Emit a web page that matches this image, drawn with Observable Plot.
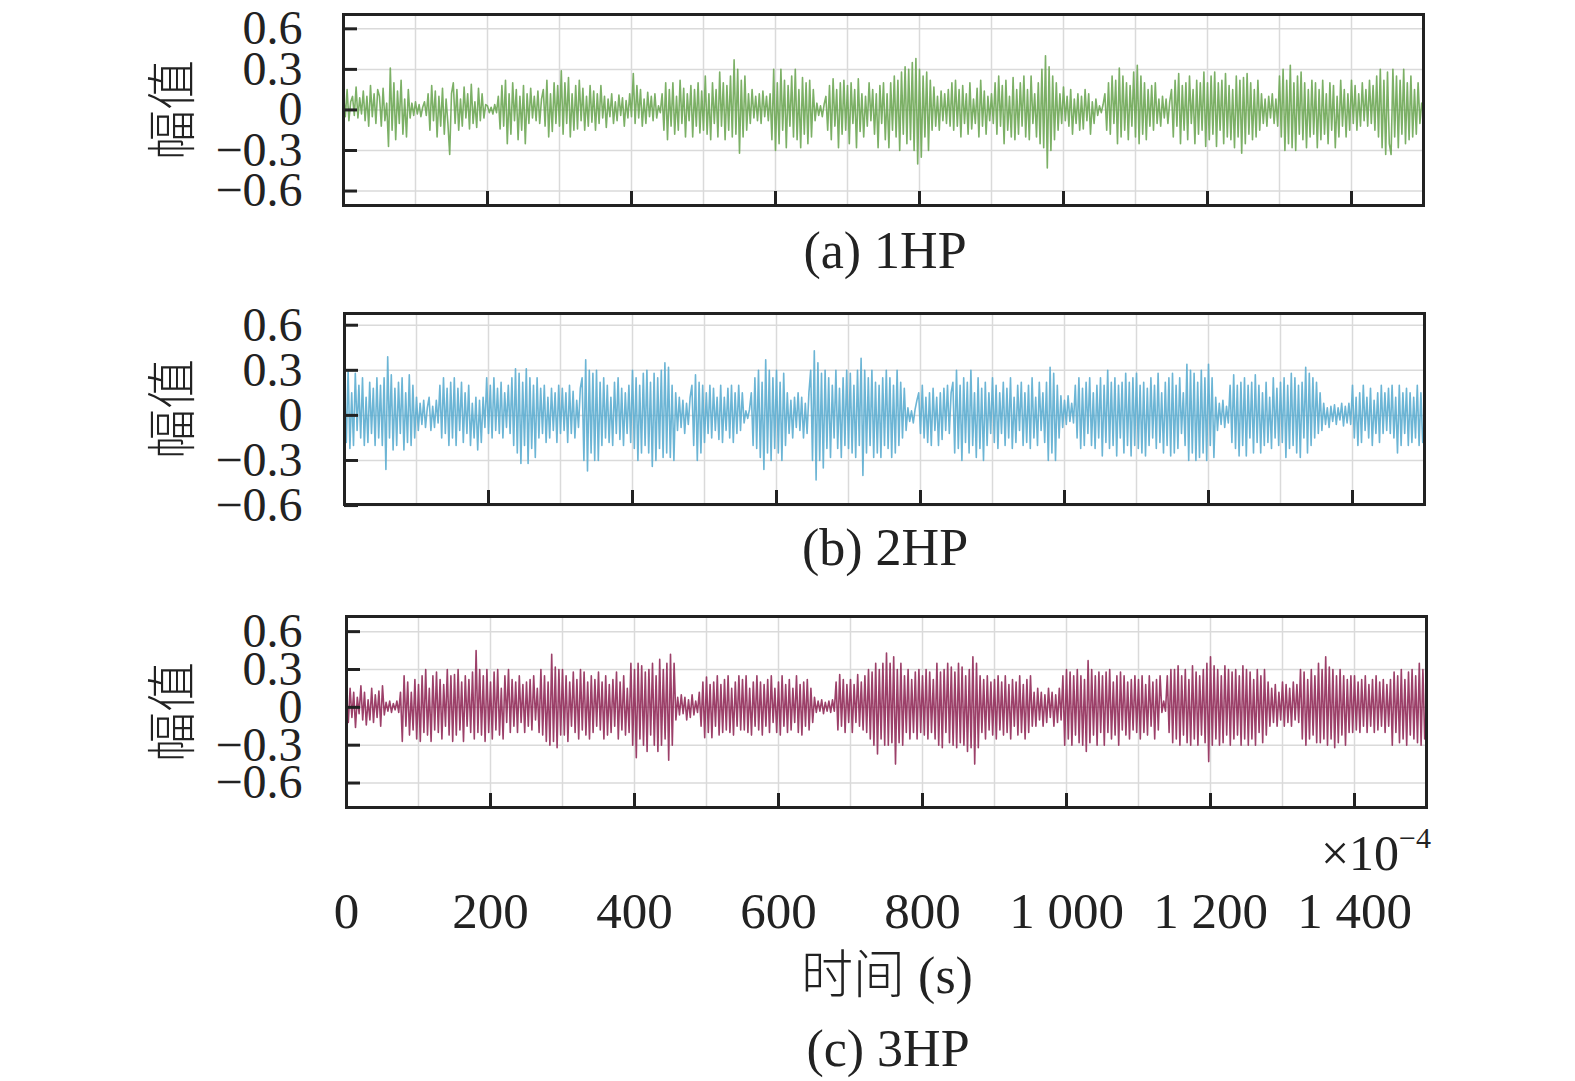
<!DOCTYPE html>
<html>
<head>
<meta charset="utf-8">
<script src="https://cdn.jsdelivr.net/npm/d3@7"></script>
<script src="https://cdn.jsdelivr.net/npm/@observablehq/plot@0.6"></script>
<style>
html, body { margin: 0; background: #fff; overflow: hidden; }
#fig { position: relative; width: 1575px; height: 1081px; font-family: "Liberation Serif", "Times New Roman", serif; color: #222; }
#fig svg { position: absolute; left: 0; overflow: visible; max-width: none; }
.cap { position: absolute; transform: translateX(-50%); white-space: nowrap; font-size: 52px; line-height: 1; }
.ylab { position: absolute; left: 168px; transform: translate(-50%, -50%) rotate(-90deg); white-space: nowrap; font-size: 50px; line-height: 1; font-family: "Noto Sans CJK SC", sans-serif; font-weight: 300; }
.exp { position: absolute; right: 144px; top: 823px; font-size: 50px; line-height: 1; }
.exp sup { font-size: 30px; vertical-align: 22px; }
.cjk { font-family: "Noto Sans CJK SC", sans-serif; font-weight: 300; }
</style>
</head>
<body>
<div id="fig"></div>
<script>
// data: vibration amplitude, one sample every 2.5 (x10^-4 s), 20 samples per line
const step = 2.5;

const hp1 = [
  .12,-.05,.15,-.08,.06,.1,-.04,.17,-.06,.09,-.03,.14,-.08,.1,-.12,.18,-.05,.12,-.1,.15,
  .1,-.12,.16,-.08,.05,-.27,.31,-.15,.2,-.22,.14,-.1,.22,-.18,.08,-.2,.15,-.06,.05,-.04,
  .06,-.03,.04,-.05,.02,.06,-.04,.12,-.15,.18,-.08,.14,-.2,.1,-.12,.16,-.18,.08,-.1,-.33,
  .12,.2,-.1,.15,-.15,.08,-.12,.17,-.06,.12,-.14,.19,-.1,.06,-.13,.16,-.08,.12,-.06,.04,
  .03,-.02,.02,-.03,.04,-.02,.1,-.14,.18,-.12,.22,-.25,.12,-.18,.2,-.08,.15,-.22,.1,-.15,
  .18,-.25,.12,-.1,.16,-.06,.1,-.08,.14,-.1,.08,.15,-.12,.22,-.2,.12,-.16,.2,-.1,.18,
  -.12,.29,-.18,.2,-.1,.24,-.2,.12,-.15,.18,-.14,.22,-.08,.16,-.15,.1,-.12,.18,-.09,.14,
  -.15,.12,-.1,.18,-.06,.1,-.13,.08,-.05,.12,-.1,.06,-.08,.11,-.04,.09,-.12,.07,-.06,.12,
  -.05,.27,-.1,.18,-.06,.15,-.12,.08,-.1,.13,-.05,.1,-.08,.12,-.06,.03,-.02,.12,-.15,.2,
  -.22,.15,-.12,.2,-.18,.1,-.15,.22,-.1,.16,-.2,.12,-.08,.18,-.2,.15,-.12,.2,-.17,.14,
  -.15,.25,-.18,.12,-.22,.2,-.1,.15,-.2,.28,-.12,.2,-.22,.18,-.15,.25,-.2,.37,-.18,.3,
  -.32,.22,-.2,.25,-.15,.12,-.1,.15,-.06,.1,-.08,.12,-.1,.14,-.05,.1,-.08,.12,-.22,.3,
  -.3,.2,-.25,.3,-.15,.22,-.28,.18,-.12,.25,-.2,.3,-.22,.15,-.28,.24,-.18,.2,-.25,.22,
  -.2,.15,-.08,.05,-.04,.03,-.05,.04,.1,-.15,.18,-.22,.23,-.12,.15,-.28,.2,-.18,.22,-.15,
  .18,-.25,.2,-.1,.15,-.28,.23,-.16,.12,-.2,.1,-.12,.2,-.08,.15,-.18,.12,-.28,.18,-.1,
  .2,-.22,.12,-.28,.2,-.15,.25,-.2,.22,-.3,.28,-.18,.32,-.25,.3,-.22,.35,-.3,.38,-.4,
  .3,-.35,.25,-.2,.28,-.3,.22,-.15,.17,-.12,.1,-.15,.14,-.08,.12,-.1,.15,-.12,.2,-.15,
  .22,-.12,.15,-.2,.18,-.1,.12,-.18,.2,-.14,.08,-.1,.16,-.2,.22,-.12,.14,-.18,.1,-.08,
  .12,-.1,.2,-.18,.25,-.12,.18,-.25,.22,-.15,.1,-.2,.24,-.22,.15,-.18,.2,-.12,.25,-.2,
  .15,-.22,.25,-.1,.12,-.2,.2,-.25,.3,-.28,.4,-.43,.32,-.3,.25,-.22,.2,-.15,.12,-.1,
  .17,-.08,.1,-.12,.15,-.18,.08,-.1,.12,-.15,.1,-.14,.15,-.08,.12,-.18,.06,-.1,.08,-.04,
  .03,-.02,.04,.12,-.15,.2,-.18,.25,-.1,.22,-.25,.31,-.2,.25,-.15,.2,-.22,.18,-.12,.28,
  -.2,.33,-.25,.25,-.18,.2,-.22,.15,-.12,.18,-.15,.2,-.1,.08,-.12,.1,-.06,.08,-.1,.06,
  .15,-.2,.22,-.12,.27,-.25,.18,-.15,.2,-.22,.25,-.1,.15,-.25,.22,-.18,.2,-.15,.28,-.27,
  .2,-.22,.25,-.18,.28,-.27,.2,-.15,.22,-.25,.27,-.2,.18,-.22,.15,-.28,.25,-.2,.22,-.32,
  .24,-.25,.27,-.18,.2,-.22,.15,-.2,.22,-.15,.12,-.1,.08,-.12,.1,-.06,.12,-.1,.08,-.12,
  .25,-.2,.3,-.3,.22,-.25,.33,-.28,.2,-.3,.25,-.18,.28,-.22,.2,-.28,.15,-.2,.22,-.18,
  .2,-.28,.15,-.22,.22,-.18,.12,-.25,.2,-.15,.18,-.28,.1,-.2,.22,-.12,.15,-.2,.12,-.15,
  .22,-.1,.18,-.15,.12,-.12,.2,-.08,.15,-.12,.22,-.1,.18,-.15,.25,-.2,.3,-.28,.22,-.33,
  .28,-.25,-.33,.3,-.2,.25,-.28,.22,-.18,.3,-.25,.2,-.22,.25,-.2,.15,-.18,.2,-.1,.05
];

const hp2 = [
  .22,-.18,.3,-.22,.15,-.2,.28,-.1,.2,-.15,.25,-.2,.12,-.18,.22,-.12,.18,-.2,.25,-.15,
  .2,-.2,.25,-.36,.39,-.15,.27,-.23,.18,-.2,.22,-.12,.25,-.23,.15,-.18,.27,-.2,.2,-.15,
  .12,-.1,.08,-.06,.1,-.08,.05,.12,-.1,.06,-.08,.1,-.05,.2,-.15,.25,-.12,.18,-.2,.22,
  -.15,.25,-.2,.18,-.1,.22,-.18,.15,-.12,.2,-.2,.08,-.15,.12,-.23,.1,-.18,.12,-.08,.25,
  -.12,.2,-.15,.25,-.1,.18,-.12,.22,-.15,.15,-.08,.2,-.12,.25,-.2,.31,-.25,.28,-.32,.22,
  -.2,.31,-.32,.25,-.22,.2,-.28,.25,-.15,.18,-.12,.2,-.18,.12,-.15,.18,-.1,.15,-.18,.2,
  -.12,.18,-.1,.15,-.18,.2,-.12,.16,-.15,.1,-.08,.18,.25,-.3,.37,-.37,.3,-.25,.28,-.3,
  .3,-.3,.22,-.2,.25,-.15,.2,-.18,.12,-.2,.22,-.12,.25,-.16,.18,-.2,.15,-.12,.2,-.18,
  .3,-.22,.25,-.3,.2,-.25,.28,-.2,.3,-.25,.22,-.34,.28,-.3,.25,-.22,.3,-.28,.35,-.25,
  .32,-.28,.2,-.3,.15,-.1,.12,-.08,.1,-.12,.08,-.06,.12,.2,-.2,.27,-.3,.22,-.25,.2,
  -.18,.15,-.12,.2,-.15,.18,-.1,.12,-.16,.2,-.18,.12,-.1,.18,-.15,.2,-.18,.15,-.12,.2,
  -.1,.15,-.05,.03,-.02,.04,.15,-.2,.25,-.22,.3,-.28,.22,-.36,.37,-.25,.3,-.3,.25,-.22,
  .3,-.25,.22,-.3,.28,-.2,.15,-.12,.1,-.15,.12,-.08,.15,-.1,.12,-.15,.08,-.12,.15,.3,
  -.3,.43,-.43,.35,-.3,.28,-.35,.3,-.22,.25,-.28,.2,-.15,.3,-.22,.18,-.28,.25,-.2,.3,
  -.22,.28,-.25,.2,-.28,.3,-.2,.38,-.4,.3,-.25,.25,-.2,.3,-.28,.22,-.25,.2,-.28,.25,
  -.2,.3,-.22,.25,-.28,.2,-.25,.3,-.2,.22,-.15,.18,-.1,.05,-.04,.03,-.05,.04,.1,.15,
  -.12,.2,-.15,.12,-.18,.15,-.2,.18,-.1,.12,-.2,.15,-.16,.18,-.1,.2,-.12,.15,.22,-.25,
  .3,-.22,.2,-.3,.25,-.18,.22,-.25,.3,-.2,.15,-.28,.25,-.22,.18,-.3,.22,-.2,.15,-.12,
  .25,-.18,.2,-.22,.15,-.12,.22,-.2,.18,-.15,.25,-.22,.12,-.18,.2,-.1,.22,-.2,.15,-.18,
  .2,-.22,.25,-.15,.12,-.2,.22,-.1,.15,-.18,.22,-.3,.32,-.25,.28,-.3,.2,-.15,.13,-.08,
  .1,-.06,.13,-.04,.08,-.05,.2,-.15,.25,-.22,.18,-.2,.22,-.12,.25,-.2,.15,-.22,.2,-.15,
  .25,-.27,.2,-.18,.3,-.22,.22,-.2,.25,-.27,.2,-.15,.22,-.25,.28,-.2,.22,-.27,.25,-.2,
  .28,-.22,.2,-.25,.22,-.27,.18,-.2,.25,-.15,.2,-.22,.28,-.18,.15,-.25,.22,-.2,.25,-.27,
  .28,-.25,.2,-.22,.25,-.12,.15,-.2,.34,-.3,.3,-.25,.28,-.3,.22,-.28,.3,-.25,.25,-.3,
  .34,-.2,.25,-.28,.12,-.1,.08,-.06,.1,-.08,.06,-.05,.2,-.18,.27,-.22,.2,-.27,.22,-.2,
  .25,-.27,.2,-.15,.22,-.25,.27,-.18,.2,-.25,.15,-.2,.22,-.18,.12,-.22,.25,-.15,.18,-.2,
  .22,-.18,.25,-.28,.2,-.22,.28,-.2,.25,-.25,.2,-.28,.22,-.15,.32,-.25,.28,-.2,.25,-.15,
  .22,-.12,.15,-.1,.08,-.06,.05,-.08,.06,-.04,.07,-.06,.05,-.03,.08,-.07,.06,-.05,.08,-.06,
  .2,-.15,.12,-.2,.15,-.18,.2,-.1,.12,-.15,.18,-.2,.1,-.12,.15,-.18,.2,-.12,.15,-.1,
  .18,-.12,.2,-.15,.12,-.25,.2,-.2,.15,-.12,.18,-.2,.15,-.18,.12,-.15,.2,-.2,.15,-.18
];

const hp3 = [
  .1,-.12,.15,-.08,.12,-.16,.08,-.05,.17,-.1,.12,-.14,.06,-.1,.15,-.12,.1,-.08,.13,-.15,
  .17,-.06,.04,-.03,.05,-.04,.03,-.02,.05,-.04,.12,-.27,.25,-.15,.2,-.22,.12,-.18,.22,-.25,
  .18,-.27,.25,-.2,.3,-.22,.15,-.27,.25,-.18,.28,-.2,.22,-.25,.18,-.15,.3,-.22,.25,-.27,
  .26,-.22,.3,-.18,.2,-.27,.25,-.15,.22,-.2,.28,-.25,.45,-.2,.3,-.22,.25,-.27,.3,-.2,
  .2,-.25,.28,-.18,.3,-.22,.15,-.25,.25,-.12,.3,-.2,.22,-.15,.2,-.2,.25,-.12,.18,-.2,
  .2,-.15,.22,-.18,.25,-.1,.15,-.2,.3,-.22,.25,-.27,.2,-.3,.42,-.27,.32,-.32,.3,-.22,
  .3,-.22,.25,-.27,.2,-.15,.28,-.2,.22,-.25,.3,-.18,.28,-.22,.2,-.25,.25,-.2,.22,-.15,
  .28,-.18,.2,-.25,.25,-.22,.18,-.2,.22,-.15,.28,-.25,.2,-.18,.25,-.22,.15,-.2,.35,-.3,
  .3,-.4,.35,-.25,.33,-.3,.28,-.35,.3,-.22,.35,-.3,.25,-.35,.38,-.3,.3,-.25,.35,-.42,
  .42,-.3,.35,-.1,.08,-.06,.1,-.05,.08,-.1,.06,-.08,.1,-.06,.05,-.04,.12,-.15,.2,-.24,
  .24,-.2,.18,-.24,.2,-.15,.25,-.22,.18,-.2,.22,-.18,.25,-.2,.15,-.22,.2,-.15,.25,-.18,
  .22,-.18,.25,-.2,.15,-.22,.2,-.15,.25,-.18,.2,-.22,.18,-.15,.22,-.2,.25,-.12,.15,-.2,
  .2,-.22,.25,-.15,.18,-.2,.22,-.18,.15,-.12,.25,-.2,.18,-.22,.2,-.15,.22,-.18,.15,-.12,
  .08,-.04,.05,-.03,.06,-.05,.04,-.03,.05,-.04,.06,-.03,.2,-.18,.26,-.15,.22,-.2,.18,-.12,
  .22,-.2,.18,-.12,.26,-.15,.2,-.18,.25,-.2,.3,-.25,.28,-.3,.35,-.37,.3,-.25,.35,-.3,
  .43,-.3,.35,-.28,.4,-.45,.3,-.28,.35,-.3,.25,-.2,.3,-.25,.22,-.2,.28,-.25,.3,-.2,
  .25,-.22,.3,-.25,.28,-.2,.22,-.25,.35,-.3,.28,-.32,.3,-.2,.35,-.28,.32,-.3,.28,-.32,
  .35,-.28,.32,-.3,.25,-.35,.3,-.32,.4,-.45,.35,-.32,.25,-.2,.22,-.25,.25,-.18,.2,-.22,
  .22,-.25,.25,-.18,.2,-.22,.25,-.2,.18,-.25,.22,-.15,.2,-.22,.25,-.2,.18,-.25,.22,-.2,
  .25,-.15,.12,-.15,.15,-.1,.12,-.15,.1,-.12,.15,-.08,.12,-.15,.1,-.12,.15,-.1,.25,-.3,
  .3,-.25,.28,-.3,.25,-.22,.3,-.28,.25,-.3,.22,-.35,.37,-.28,.3,-.22,.25,-.3,.28,-.2,
  .25,-.3,.28,-.2,.3,-.25,.2,-.22,.25,-.3,.28,-.18,.25,-.22,.2,-.25,.22,-.18,.25,-.2,
  .22,-.25,.25,-.2,.18,-.22,.25,-.15,.2,-.25,.22,-.18,.25,-.04,.05,-.03,.25,-.2,.3,-.28,
  .3,-.25,.33,-.3,.25,-.22,.3,-.28,.22,-.3,.33,-.25,.28,-.3,.25,-.22,.3,-.28,.35,-.43,
  .4,-.3,.33,-.25,.3,-.3,.25,-.28,.33,-.22,.3,-.3,.28,-.25,.3,-.22,.25,-.3,.33,-.25,
  .3,-.3,.28,-.25,.22,-.3,.3,-.2,.25,-.28,.3,-.22,.2,-.15,.15,-.12,.18,-.15,.12,-.1,
  .2,-.15,.18,-.12,.15,-.15,.2,-.1,.18,-.12,.3,-.25,.28,-.3,.22,-.25,.3,-.22,.25,-.28,
  .35,-.28,.3,-.25,.4,-.3,.32,-.25,.3,-.32,.25,-.28,.3,-.22,.25,-.3,.22,-.2,.25,-.2,
  .25,-.18,.2,-.2,.22,-.15,.25,-.2,.18,-.15,.22,-.2,.25,-.18,.2,-.15,.22,-.2,.18,-.15,
  .22,-.3,.28,-.2,.25,-.28,.3,-.25,.22,-.3,.28,-.22,.3,-.25,.25,-.28,.35,-.3,.3,-.25
];

const xTicks = [0, 200, 400, 600, 800, 1000, 1200, 1400];
const xGrid = [100, 200, 300, 400, 500, 600, 700, 800, 900, 1000, 1100, 1200, 1300, 1400];
const yTicks = [-0.6, -0.3, 0, 0.3, 0.6];
const captions = ["(a) 1HP", "(b) 2HP", "(c) 3HP"];
const yLabel = "幅值";

const fmtY = d => d === 0 ? "0" : d3.format(".1f")(d);
const fmtX = d => d3.format(",")(d).replace(",", " ");

const fig = document.querySelector('#fig');

function panel({values, color, yDomain, top, left, right, bottom, labels}) {
	const data = values.map((v, i) => ({t: i * step, v}));
	const svg = Plot.plot({
		width: 1575,
		height: 14 + 191 + bottom,
		marginTop: 14,
		marginBottom: bottom,
		marginLeft: left,
		marginRight: 1575 - right,
		x: {domain: [0, 1500], axis: null},
		y: {domain: yDomain, axis: null},
		style: {fontFamily: '"Liberation Serif", "Times New Roman", serif', fontSize: "48px", color: "#222", background: "transparent", maxWidth: "none"},
		marks: [
			Plot.gridX(xGrid, {stroke: "#dadada", strokeOpacity: 1, strokeWidth: 1.5}),
			Plot.gridY(yTicks, {stroke: "#dadada", strokeOpacity: 1, strokeWidth: 1.5}),
			Plot.line(data, {x: "t", y: "v", stroke: color, strokeWidth: 1.6, strokeOpacity: 0.88}),
			Plot.axisY(yTicks, {anchor: "left", tickSize: -14, tickPadding: (left - 302) + 14, strokeWidth: 3, stroke: "#222", tickFormat: fmtY, fontSize: 48, label: null}),
			Plot.axisX(xTicks, {anchor: "bottom", tickSize: -14, tickPadding: 98, strokeWidth: 3, stroke: "#222", tickFormat: labels ? fmtX : () => "", fontSize: 51, label: null}),
			Plot.frame({stroke: "#222", strokeWidth: 3})
		]
	});
	svg.style.top = top + "px";
	fig.append(svg);
}

panel({values: hp1, color: "#6aa551", yDomain: [-0.707, 0.706], top: 0, left: 343, right: 1423, bottom: 26, labels: false});
panel({values: hp2, color: "#58abcf", yDomain: [-0.593, 0.678], top: 299, left: 344, right: 1424, bottom: 26, labels: false});
panel({values: hp3, color: "#8e2654", yDomain: [-0.794, 0.72], top: 602, left: 346, right: 1426, bottom: 137, labels: true});

// text around the panels
function addDiv(cls, html, css) {
	const d = document.createElement('div');
	d.className = cls;
	d.innerHTML = html;
	Object.assign(d.style, css);
	fig.append(d);
}
addDiv('cap', captions[0], {top: '225px', left: '885px'});
addDiv('cap', captions[1], {top: '522px', left: '885px'});
addDiv('cap', `<span class="cjk">时间</span> (s)`, {top: '945px', left: '887px'});
addDiv('cap', captions[2], {top: '1023px', left: '888px'});
[110, 409, 712].forEach(y => addDiv('ylab', yLabel, {top: y + 'px'}));
addDiv('exp', '×10<sup>−4</sup>', {});
</script>
</body>
</html>
